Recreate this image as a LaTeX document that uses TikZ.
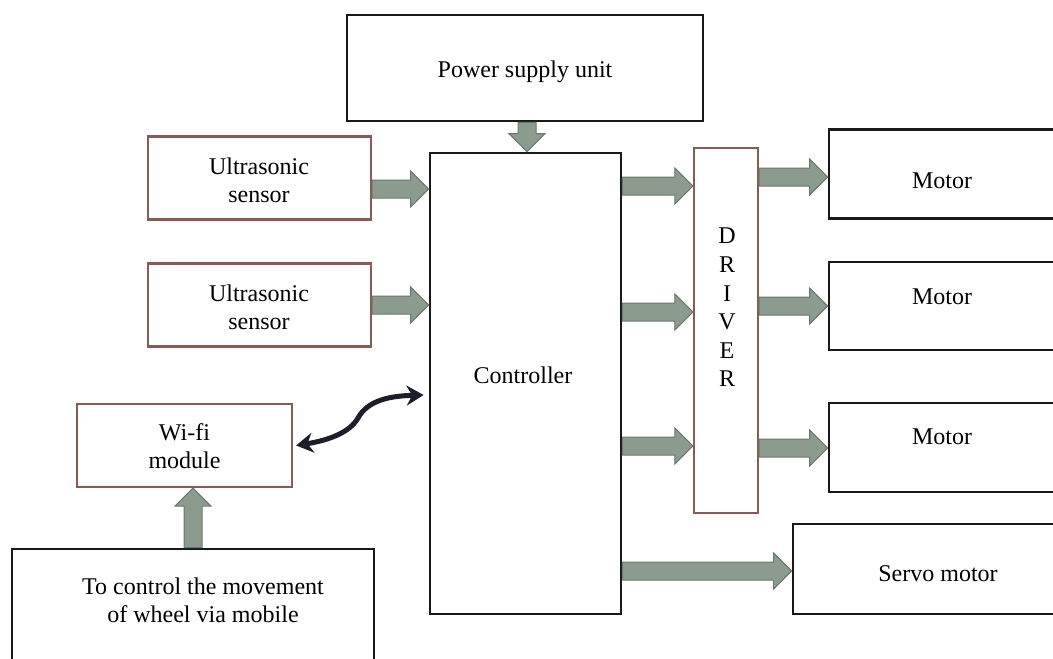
\documentclass[tikz,border=0pt]{standalone}
\usepackage{fontspec}
\setmainfont{Liberation Serif}
\usetikzlibrary{calc,arrows.meta}
\definecolor{brownline}{RGB}{138,90,84}
\definecolor{arrowfill}{RGB}{139,156,143}
\definecolor{arrowline}{RGB}{105,120,108}
\definecolor{curvecol}{RGB}{28,31,42}
\tikzset{
  blackbox/.style={draw=black!90,line width=1.4pt,fill=white,inner sep=0pt,rectangle},
  brownbox/.style={draw=brownline,line width=1.1pt,fill=white,inner sep=0pt,rectangle},
  lbl/.style={font=\fontsize{12}{14}\selectfont,align=center,inner sep=0pt},
  blk/.style={fill=arrowfill,draw=arrowline,line width=0.5pt,line join=miter},
  wave/.style={draw=curvecol,line width=2.5pt,{Stealth[length=8.5pt,width=10pt]}-{Stealth[length=8.5pt,width=10pt]}}
}
% horizontal block arrow: start node, end node, y (px)
\newcommand{\harrow}[3]{\path[blk] let \p1=(#1), \p2=(#2), \p3=(0,#3) in
  (\x1,\y3+4.5pt) -- (\x2-9pt,\y3+4.5pt) -- (\x2-9pt,\y3+9pt) -- (\x2,\y3) --
  (\x2-9pt,\y3-9pt) -- (\x2-9pt,\y3-4.5pt) -- (\x1,\y3-4.5pt) -- cycle;}
% downward block arrow: start node, end node, x (px)
\newcommand{\darrow}[3]{\path[blk] let \p1=(#1), \p2=(#2), \p3=(#3,0) in
  (\x3-4.5pt,\y1) -- (\x3-4.5pt,\y2+9pt) -- (\x3-9pt,\y2+9pt) -- (\x3,\y2) --
  (\x3+9pt,\y2+9pt) -- (\x3+4.5pt,\y2+9pt) -- (\x3+4.5pt,\y1) -- cycle;}
% upward block arrow
\newcommand{\uarrow}[3]{\path[blk] let \p1=(#1), \p2=(#2), \p3=(#3,0) in
  (\x3-4.5pt,\y1) -- (\x3-4.5pt,\y2-9pt) -- (\x3-9pt,\y2-9pt) -- (\x3,\y2) --
  (\x3+9pt,\y2-9pt) -- (\x3+4.5pt,\y2-9pt) -- (\x3+4.5pt,\y1) -- cycle;}
\begin{document}
\begin{tikzpicture}[x=0.5pt,y=-0.5pt]
\useasboundingbox[fill=white] (0,0) rectangle (1053,658);
\clip (0,0) rectangle (1053,658);

% boxes
\node[blackbox,minimum width=178pt,minimum height=53pt] (pw) at (525,68) {};
\node[brownbox,minimum width=111.5pt,minimum height=41.5pt] (s1) at (259.5,178) {};
\node[brownbox,minimum width=111.5pt,minimum height=41.5pt] (s2) at (259.5,305) {};
\node[brownbox,minimum width=107.5pt,minimum height=41.5pt] (wifi) at (184.5,445.5) {};
\node[blackbox,minimum width=181pt,minimum height=75pt] (mob) at (193,624) {};
\node[blackbox,minimum width=95.5pt,minimum height=230.5pt] (ctrl) at (525.5,383.5) {};
\node[brownbox,minimum width=32pt,minimum height=182.5pt] (drv) at (726,330.5) {};
\node[blackbox,minimum width=113pt,minimum height=44.5pt] (m1) at (942,174) {};
\node[blackbox,minimum width=113pt,minimum height=44pt] (m2) at (942,306) {};
\node[blackbox,minimum width=113pt,minimum height=44.5pt] (m3) at (942,447.5) {};
\node[blackbox,minimum width=145pt,minimum height=45pt] (servo) at (938,569) {};

% texts
\node[lbl,anchor=base] (pwt) at (525,78) {Power supply unit};
\node[lbl] (s1t) at (259,180) {Ultrasonic\\sensor};
\node[lbl] (s2t) at (259,307) {Ultrasonic\\sensor};
\node[lbl] (wifit) at (184.5,446) {Wi-fi\\module};
\node[lbl] (mobt) at (203,600) {To control the movement\\of wheel via mobile};
\node[lbl,anchor=base] (ctrlt) at (523,383) {Controller};
\node[lbl,font=\fontsize{12}{14.3}\selectfont] (drvt) at (727,307.5) {D\\R\\I\\V\\E\\R};
\node[lbl,anchor=base] (m1t) at (942,188) {Motor};
\node[lbl,anchor=base] (m2t) at (942,304) {Motor};
\node[lbl,anchor=base] (m3t) at (942,444) {Motor};
\node[lbl,anchor=base] (servot) at (938,581) {Servo motor};

% block arrows
\darrow{pw.south}{ctrl.north}{527}
\harrow{s1.east}{ctrl.west}{189}
\harrow{s2.east}{ctrl.west}{305}
\harrow{ctrl.east}{drv.west}{186}
\harrow{ctrl.east}{drv.west}{312}
\harrow{ctrl.east}{drv.west}{446}
\harrow{drv.east}{m1.west}{177}
\harrow{drv.east}{m2.west}{306}
\harrow{drv.east}{m3.west}{448}
\harrow{ctrl.east}{servo.west}{571}
\uarrow{mob.north}{wifi.south}{193}

% curved two-way link
\coordinate (cw) at (ctrl.west |- 0,395);
\draw[wave] ($(wifi.east)+(3,0)$) .. controls (330,440) and (350,432) .. (358,418)
  .. controls (368,400) and (390,396) .. ($(cw)+(-5,0)$);
\end{tikzpicture}
\end{document}
